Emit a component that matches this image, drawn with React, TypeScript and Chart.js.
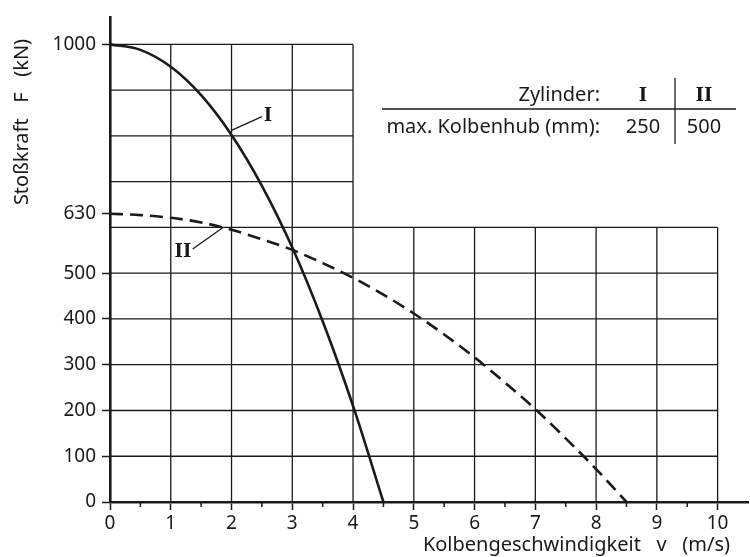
import React, { useEffect, useRef } from "react";
import { Chart, registerables } from "chart.js";

Chart.register(...registerables);

// Data
const X_TICKS = [0, 1, 2, 3, 4, 5, 6, 7, 8, 9, 10];
const Y_TICKS = [0, 100, 200, 300, 400, 500, 630, 1000];

const CURVE_I_V = [0, 0.5, 1, 1.5, 2, 2.5, 3, 3.5, 4, 4.5];
const CURVE_I_F = [1000, 988, 951, 889, 802, 691, 556, 395, 210, 0];

const CURVE_II_V = [0, 0.5, 1, 1.5, 2, 2.5, 3, 3.5, 4, 4.5, 5, 5.5, 6, 6.5, 7, 7.5, 8, 8.5];
const CURVE_II_F = [630, 627, 621, 611, 595, 574, 551, 522, 490, 453, 412, 366, 316, 261, 203, 139, 72, 0];

const GRID_X_LOW = [1, 2, 3, 4, 5, 6, 7, 8, 9, 10];
const GRID_Y_LOW = [100, 200, 300, 400, 500, 600];
const GRID_X_HIGH = [1, 2, 3, 4];
const GRID_Y_HIGH = [700, 800, 900, 1000];
const MINOR_X = [0.5, 1.5, 2.5, 3.5, 4.5, 5.5, 6.5, 7.5, 8.5, 9.5];

const TABLE_HEAD = "Zylinder:";
const TABLE_ROW = "max. Kolbenhub (mm):";
const TABLE_COLS = ["I", "II"];
const TABLE_VALUES = ["250", "500"];

const X_TITLE = "Kolbengeschwindigkeit   v   (m/s)";
const Y_TITLE = "Stoßkraft   F   (kN)";

const SANS = "'Noto Sans', 'DejaVu Sans', sans-serif";
const SERIF = "'DejaVu Serif', 'Liberation Serif', serif";
const INK = "#1a1a1a";

export default function App() {
  const ref = useRef<HTMLCanvasElement | null>(null);

  useEffect(() => {
    const canvas = ref.current;
    if (!canvas) return;

    const decor = {
      id: "decor",
      beforeDatasetsDraw(chart: any) {
        const ctx = chart.ctx;
        const xs = chart.scales.x;
        const ys = chart.scales.y;
        ctx.save();
        ctx.strokeStyle = INK;
        ctx.lineWidth = 1.3;
        ctx.beginPath();
        GRID_X_LOW.forEach((v) => {
          const px = xs.getPixelForValue(v);
          ctx.moveTo(px, ys.getPixelForValue(0));
          ctx.lineTo(px, ys.getPixelForValue(600));
        });
        GRID_Y_LOW.forEach((v) => {
          const py = ys.getPixelForValue(v);
          ctx.moveTo(xs.getPixelForValue(0), py);
          ctx.lineTo(xs.getPixelForValue(10), py);
        });
        GRID_X_HIGH.forEach((v) => {
          const px = xs.getPixelForValue(v);
          ctx.moveTo(px, ys.getPixelForValue(600));
          ctx.lineTo(px, ys.getPixelForValue(1000));
        });
        GRID_Y_HIGH.forEach((v) => {
          const py = ys.getPixelForValue(v);
          ctx.moveTo(xs.getPixelForValue(0), py);
          ctx.lineTo(xs.getPixelForValue(4), py);
        });
        ctx.stroke();
        // minor ticks
        ctx.lineWidth = 1.5;
        ctx.beginPath();
        MINOR_X.forEach((v) => {
          const px = xs.getPixelForValue(v);
          const py = ys.getPixelForValue(0);
          ctx.moveTo(px, py);
          ctx.lineTo(px, py + 5);
        });
        ctx.stroke();
        ctx.restore();
      },
      afterDraw(chart: any) {
        const ctx = chart.ctx;
        const xs = chart.scales.x;
        const ys = chart.scales.y;
        ctx.save();
        ctx.fillStyle = INK;
        ctx.strokeStyle = INK;

        // curve labels with leader lines
        ctx.lineWidth = 1.3;
        ctx.beginPath();
        ctx.moveTo(xs.getPixelForValue(2.0), ys.getPixelForValue(812));
        ctx.lineTo(xs.getPixelForValue(2.5), ys.getPixelForValue(842));
        ctx.moveTo(xs.getPixelForValue(1.86), ys.getPixelForValue(600));
        ctx.lineTo(xs.getPixelForValue(1.36), ys.getPixelForValue(553));
        ctx.stroke();
        ctx.font = `bold 18px ${SERIF}`;
        ctx.textAlign = "center";
        ctx.textBaseline = "middle";
        ctx.fillText("I", xs.getPixelForValue(2.6), ys.getPixelForValue(843));
        ctx.fillText("II", xs.getPixelForValue(1.2), ys.getPixelForValue(545));

        // table
        ctx.font = `20px ${SANS}`;
        ctx.textAlign = "right";
        ctx.textBaseline = "alphabetic";
        ctx.fillText(TABLE_HEAD, 600, 101);
        ctx.fillText(TABLE_ROW, 600, 133);
        ctx.textAlign = "center";
        ctx.fillText(TABLE_VALUES[0], 643, 133);
        ctx.fillText(TABLE_VALUES[1], 704, 133);
        ctx.font = `bold 18px ${SERIF}`;
        ctx.fillText(TABLE_COLS[0], 643, 101);
        ctx.fillText(TABLE_COLS[1], 704, 101);
        ctx.lineWidth = 1.3;
        ctx.beginPath();
        ctx.moveTo(382, 109);
        ctx.lineTo(736, 109);
        ctx.moveTo(675, 78);
        ctx.lineTo(675, 144);
        ctx.stroke();

        // axis titles
        ctx.font = `20px ${SANS}`;
        ctx.textAlign = "right";
        ctx.textBaseline = "alphabetic";
        ctx.fillText(X_TITLE, 730, 551);
        ctx.save();
        ctx.translate(28, 122);
        ctx.rotate(-Math.PI / 2);
        ctx.textAlign = "center";
        ctx.fillText(Y_TITLE, 0, 0);
        ctx.restore();
        ctx.restore();
      },
    };

    const chart = new Chart(canvas, {
      type: "scatter",
      data: {
        datasets: [
          {
            label: "I",
            data: CURVE_I_V.map((v, i) => ({ x: v, y: CURVE_I_F[i] })),
            showLine: true,
            borderColor: INK,
            borderWidth: 2.6,
            pointRadius: 0,
            cubicInterpolationMode: "monotone",
          },
          {
            label: "II",
            data: CURVE_II_V.map((v, i) => ({ x: v, y: CURVE_II_F[i] })),
            showLine: true,
            borderColor: INK,
            borderWidth: 2.6,
            borderDash: [13, 7],
            pointRadius: 0,
            cubicInterpolationMode: "monotone",
          },
        ],
      },
      options: {
        animation: false,
        responsive: false,
        devicePixelRatio: 1,
        layout: { padding: { top: 11, right: 2, left: 0, bottom: 0 } },
        plugins: { legend: { display: false }, tooltip: { enabled: false } },
        scales: {
          x: {
            type: "linear",
            min: 0,
            max: 10.5,
            afterBuildTicks: (s: any) => {
              s.ticks = X_TICKS.map((v) => ({ value: v }));
            },
            afterFit: (s: any) => {
              s.height = 55;
            },
            border: { display: true, color: INK, width: 2.6 },
            grid: {
              display: true,
              drawOnChartArea: false,
              drawTicks: true,
              tickLength: 8,
              tickWidth: 1.5,
              tickColor: INK,
            },
            ticks: {
              color: INK,
              padding: 2,
              maxRotation: 0,
              autoSkip: false,
              font: { family: SANS, size: 19 },
              callback: (v: any) => String(v),
            },
          },
          y: {
            type: "linear",
            min: 0,
            max: 1059,
            afterBuildTicks: (s: any) => {
              s.ticks = Y_TICKS.map((v) => ({ value: v }));
            },
            afterFit: (s: any) => {
              s.width = 110;
            },
            border: { display: true, color: INK, width: 2.6 },
            grid: {
              display: true,
              drawOnChartArea: false,
              drawTicks: true,
              tickLength: 8,
              tickWidth: 1.5,
              tickColor: INK,
            },
            ticks: {
              color: INK,
              padding: 6,
              autoSkip: false,
              font: { family: SANS, size: 19 },
              callback: (v: any) => String(v),
            },
          },
        },
      },
      plugins: [decor],
    } as any);

    return () => chart.destroy();
  }, []);

  return (
    <div style={{ position: "absolute", left: 0, top: 0, width: 750, height: 557, background: "#fff" }}>
      <canvas ref={ref} width={750} height={557} />
    </div>
  );
}
